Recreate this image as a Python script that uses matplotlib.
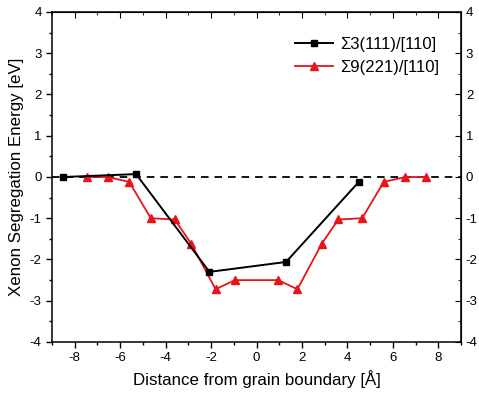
import matplotlib
matplotlib.use('Agg')
import matplotlib.pyplot as plt
import numpy as np

plt.rcParams['font.family'] = ['Liberation Sans', 'DejaVu Sans']
plt.rcParams['axes.unicode_minus'] = False

# sigma3 data
x_s3 = [-8.5, -5.3, -2.07, 1.3, 4.5]
y_s3 = [0.0, 0.07, -2.3, -2.06, -0.12]

# sigma9 data
x_s9 = [-7.45, -6.55, -5.6, -4.65, -3.6, -2.87, -1.8, -0.95,
        0.95, 1.8, 2.87, 3.6, 4.65, 5.6, 6.55, 7.45]
y_s9 = [0.0, 0.0, -0.12, -1.0, -1.03, -1.62, -2.72, -2.5,
        -2.5, -2.72, -1.62, -1.03, -1.0, -0.12, 0.0, 0.0]

labels = ['\u03a33(111)/[110]', '\u03a39(221)/[110]']

fig = plt.figure(figsize=(4.79, 3.98), dpi=100)
ax = fig.add_axes([52/479, 1 - 342/398, (461-52)/479, (342-12)/398])

ax.axhline(0, color='black', ls=(0, (4.2, 3.3)), lw=1.3, zorder=1)
ax.plot(x_s3, y_s3, color='black', marker='s', ms=4.5, lw=1.4, label=labels[0], zorder=3)
ax.plot(x_s9, y_s9, color='#e8141a', marker='^', ms=6, lw=1.3, label=labels[1], zorder=2)

ax.set_xlim(-9, 9)
ax.set_ylim(-4, 4)
ax.set_xticks(np.arange(-8, 9, 2))
ax.set_xticks(np.arange(-9, 10, 1), minor=True)
ax.set_yticks(np.arange(-4, 5, 1))
ax.set_yticks(np.arange(-4, 4.1, 0.5), minor=True)
ax.tick_params(which='both', direction='out', labelsize=9.5, width=1)
ax.tick_params(which='major', length=4)
ax.tick_params(which='minor', length=2.5)

for s in ax.spines.values():
    s.set_linewidth(1.1)

# mirrored axes on top and right
top = ax.secondary_xaxis('top')
top.set_xticks(np.arange(-8, 9, 2))
top.set_xticks(np.arange(-9, 10, 1), minor=True)
top.tick_params(which='both', direction='in', labeltop=False)
top.tick_params(which='major', length=4)
top.tick_params(which='minor', length=2.5)
right = ax.secondary_yaxis('right')
right.set_yticks(np.arange(-4, 5, 1))
right.set_yticks(np.arange(-4, 4.1, 0.5), minor=True)
right.tick_params(which='both', direction='in', labelsize=9.5)
right.tick_params(which='major', length=4)
right.tick_params(which='minor', length=2.5)

ax.set_xlabel('Distance from grain boundary [\u00c5]', fontsize=12.2)
ax.set_ylabel('Xenon Segregation Energy [eV]', fontsize=12.2)

ax.legend(loc='upper left', bbox_to_anchor=(0.594, 0.924), frameon=False,
          fontsize=12, handlelength=2.3, handletextpad=0.4, labelspacing=0.45,
          borderpad=0, borderaxespad=0)

fig.savefig('out.png', dpi=100)
